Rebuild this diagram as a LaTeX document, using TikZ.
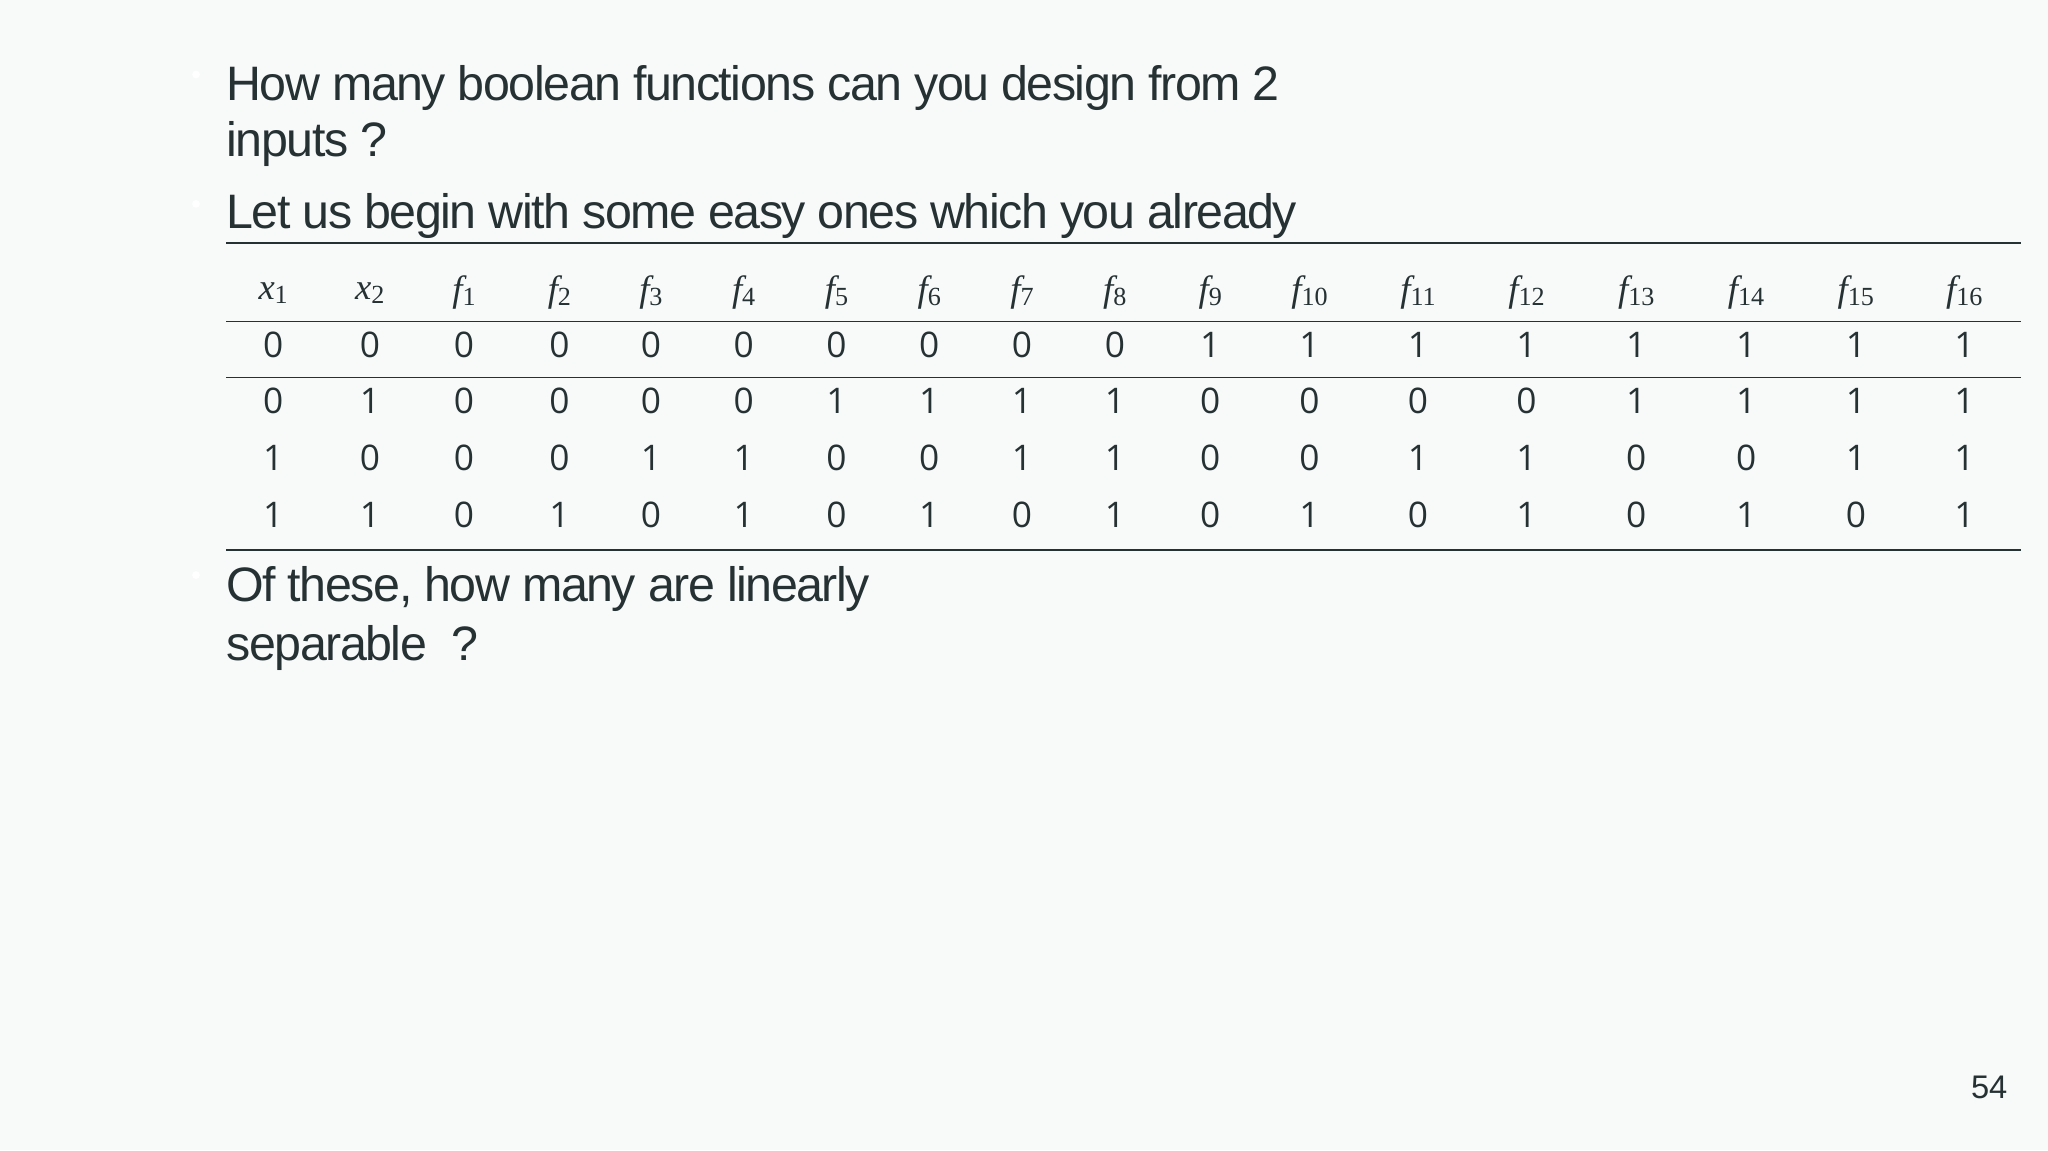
\documentclass[tikz,border=0pt]{standalone}
\usepackage{fontspec}
\setmainfont{Liberation Sans}
\newfontfamily\bodyfont[LetterSpace=-3]{Liberation Sans}
\newfontfamily\digfont{Open Sans}
\newfontfamily\hfont{Liberation Serif}
\definecolor{bg}{HTML}{F8F9F9}
\definecolor{ink}{HTML}{263133}
\newcommand{\hd}[2]{{\itshape #1}\raisebox{-0.25ex}{\fontsize{20}{22}\selectfont #2}}
\begin{document}
\begin{tikzpicture}[x=1pt,y=-1pt,
  body/.style={anchor=base west,inner sep=0pt,text=ink,font=\bodyfont\fontsize{37}{42}\selectfont},
  cell/.style={inner sep=0pt,text=ink,font=\digfont\fontsize{27}{30}\selectfont},
  hcell/.style={inner sep=0pt,text=ink,font=\hfont\fontsize{28}{30}\selectfont},
  rule/.style={draw=ink,line width=1.2pt}]
\fill[bg] (0,0) rectangle (1567,880);
\useasboundingbox (0,0) rectangle (1567,880);
\foreach \y in {57,156,440} \fill[white] (150,\y) circle (3);
\node[body] (l1) at (173,77) {How many boolean functions can you design from 2};
\node[body] (l2) at (173,120) {inputs ?};
\node[body] (l3) at (173,175) {Let us begin with some easy ones which you already};
\node[body] (l4) at (173,460) {Of these, how many are linearly};
\node[body] (l5) at (173,505) {separable \ ?};
\node[text=ink,font=\fontsize{25}{28}\selectfont] (pg) at (1522,832) {54};
\coordinate (a1) at (173,186); \coordinate (b1) at (1546,186);
\coordinate (a2) at (173,246); \coordinate (b2) at (1546,246);
\coordinate (a3) at (173,289); \coordinate (b3) at (1546,289);
\coordinate (a4) at (173,421); \coordinate (b4) at (1546,421);
\draw[rule] (a1)--(b1); \draw[rule] (a2)--(b2); \draw[rule] (a3)--(b3); \draw[rule] (a4)--(b4);
\def\xs{209,283,355,428,498,569,640,711,782,853,926,1002,1085,1168,1252,1336,1420,1503}
\node[hcell] (h1) at (209,224) {\hd{x}{1}};
\node[hcell] (h2) at (283,224) {\hd{x}{2}};
\foreach \x [count=\i] in {355,428,498,569,640,711,782,853,926,1002,1085,1168,1252,1336,1420,1503}
  \node[hcell] (hf\i) at (\x,224) {\hd{f}{\i}};
\foreach \y/\row in {264/{0,0,0,0,0,0,0,0,0,0,1,1,1,1,1,1,1,1},
  307/{0,1,0,0,0,0,1,1,1,1,0,0,0,0,1,1,1,1},
  350/{1,0,0,0,1,1,0,0,1,1,0,0,1,1,0,0,1,1},
  394/{1,1,0,1,0,1,0,1,0,1,0,1,0,1,0,1,0,1}}{
  \foreach \v [count=\j] in \row {
    \pgfmathsetmacro{\cx}{{\xs}[\j-1]}
    \node[cell] (c\y-\j) at (\cx,\y) {\v};
  }
}
\end{tikzpicture}
\end{document}
